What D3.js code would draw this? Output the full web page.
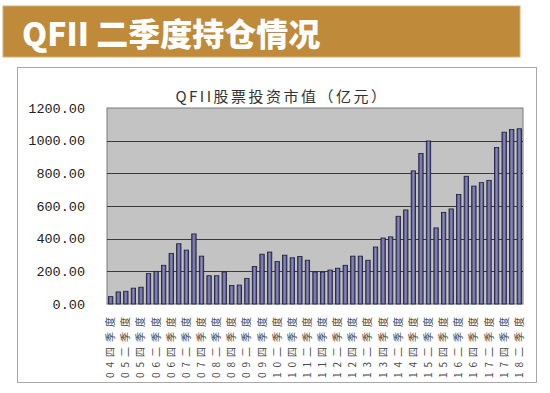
<!DOCTYPE html>
<html><head><meta charset="utf-8">
<script src="https://cdn.jsdelivr.net/npm/d3@7"></script>
<style>
html,body{margin:0;padding:0;background:#fff;}
svg{display:block;}
</style></head>
<body>
<svg id="c" width="550" height="393"></svg>
<script>
const bannerTitle = "QFII 二季度持仓情况";
const chartTitle = "QFII股票投资市值（亿元）";
const quarters = [
 "04四季度",
 "05一季度","05二季度","05三季度","05四季度",
 "06一季度","06二季度","06三季度","06四季度",
 "07一季度","07二季度","07三季度","07四季度",
 "08一季度","08二季度","08三季度","08四季度",
 "09一季度","09二季度","09三季度","09四季度",
 "10一季度","10二季度","10三季度","10四季度",
 "11一季度","11二季度","11三季度","11四季度",
 "12一季度","12二季度","12三季度","12四季度",
 "13一季度","13二季度","13三季度","13四季度",
 "14一季度","14二季度","14三季度","14四季度",
 "15一季度","15二季度","15三季度","15四季度",
 "16一季度","16二季度","16三季度","16四季度",
 "17一季度","17二季度","17三季度","17四季度",
 "18一季度","18二季度"
];
const values = [
 45,
 74,78,97,103,
 186,200,237,310,
 369,330,429,293,
 173,173,196,113,
 116,157,229,305,
 318,260,299,283,
 291,268,196,195,
 208,219,237,293,
 293,268,349,404,
 411,537,576,815,
 922,998,466,561,
 582,670,782,722,
 743,757,958,1052,
 1069,1073
];
const yTicks = [0,200,400,600,800,1000,1200];
// labelled categories (every other quarter)
const tickLabels = ["04四季度","05二季度","05四季度","06二季度","06四季度","07二季度","07四季度","08二季度","08四季度","09二季度","09四季度","10二季度","10四季度","11二季度","11四季度","12二季度","12四季度","13二季度","13四季度","14二季度","14四季度","15二季度","15四季度","16二季度","16四季度","17二季度","17四季度","18二季度"];

const svg = d3.select("#c");

// banner
svg.append("rect").attr("x",3).attr("y",6).attr("width",517).attr("height",51)
  .attr("fill","#c08a3b").attr("stroke","#d9b070").attr("stroke-width",1);
svg.append("text").attr("x",22).attr("y",46)
  .attr("font-family","'Noto Sans CJK SC', sans-serif").attr("font-weight","900")
  .attr("font-size",32).attr("fill","#fff").text(bannerTitle);

// chart frame
svg.append("rect").attr("x",17.5).attr("y",67.5).attr("width",519).attr("height",315)
  .attr("fill","#fff").attr("stroke","#a8a8a8");

const m = {left:107, right:523, top:108, bottom:304};
const x = d3.scaleBand().domain(quarters).range([m.left, m.right]).paddingInner(0.42).paddingOuter(0.2);
const y = d3.scaleLinear().domain([0,1200]).range([m.bottom, m.top]);

// plot bg
svg.append("rect").attr("x",m.left).attr("y",m.top).attr("width",m.right-m.left).attr("height",m.bottom-m.top)
  .attr("fill","#c3c3c3").attr("stroke","#7a7a7a");

// grid
svg.append("g").selectAll("line").data(yTicks.filter(d=>d>0 && d<1200)).join("line")
  .attr("x1",m.left).attr("x2",m.right).attr("y1",d=>Math.round(y(d))+0.5).attr("y2",d=>Math.round(y(d))+0.5)
  .attr("stroke","#3a3a3a").attr("stroke-width",1);

// gradient
const defs = svg.append("defs");
const g = defs.append("linearGradient").attr("id","bg").attr("x1","0").attr("x2","1").attr("y1","0").attr("y2","0");
g.append("stop").attr("offset","0").attr("stop-color","#45456a");
g.append("stop").attr("offset","0.5").attr("stop-color","#8a8ac4");
g.append("stop").attr("offset","1").attr("stop-color","#45456a");

svg.append("g").selectAll("rect").data(values).join("rect")
  .attr("x",(d,i)=>x(quarters[i]))
  .attr("y",d=>y(d))
  .attr("width",x.bandwidth())
  .attr("height",d=>m.bottom-y(d))
  .attr("fill","url(#bg)").attr("stroke","#1c1c3a").attr("stroke-width",0.8);

// y axis
const ya = svg.append("g").attr("transform",`translate(${m.left},0)`)
  .call(d3.axisLeft(y).tickValues(yTicks).tickFormat(d3.format(".2f")).tickSize(0).tickPadding(22));
ya.select(".domain").remove();
ya.selectAll("text").attr("font-family","'Liberation Mono', monospace").attr("font-size",13.5).attr("fill","#222");

// x axis
const xa = svg.append("g").attr("transform",`translate(0,${m.bottom})`)
  .call(d3.axisBottom(x).tickValues(tickLabels).tickSize(0));
xa.select(".domain").remove();
xa.selectAll("text")
  .attr("font-family","'Noto Sans CJK SC', sans-serif").attr("font-size",10).attr("fill","#4a4a4a")
  .attr("letter-spacing","5px")
  .attr("text-anchor","end")
  .attr("dy","0.35em")
  .attr("transform","translate(0,8) rotate(-90)")
  .attr("x",0).attr("y",0);

// chart title
svg.append("text").attr("x",282).attr("y",102).attr("text-anchor","middle")
  .attr("font-family","'Noto Sans CJK SC', sans-serif").attr("font-size",15)
  .attr("letter-spacing","2.5px").attr("fill","#333").text(chartTitle);
</script>
</body></html>
